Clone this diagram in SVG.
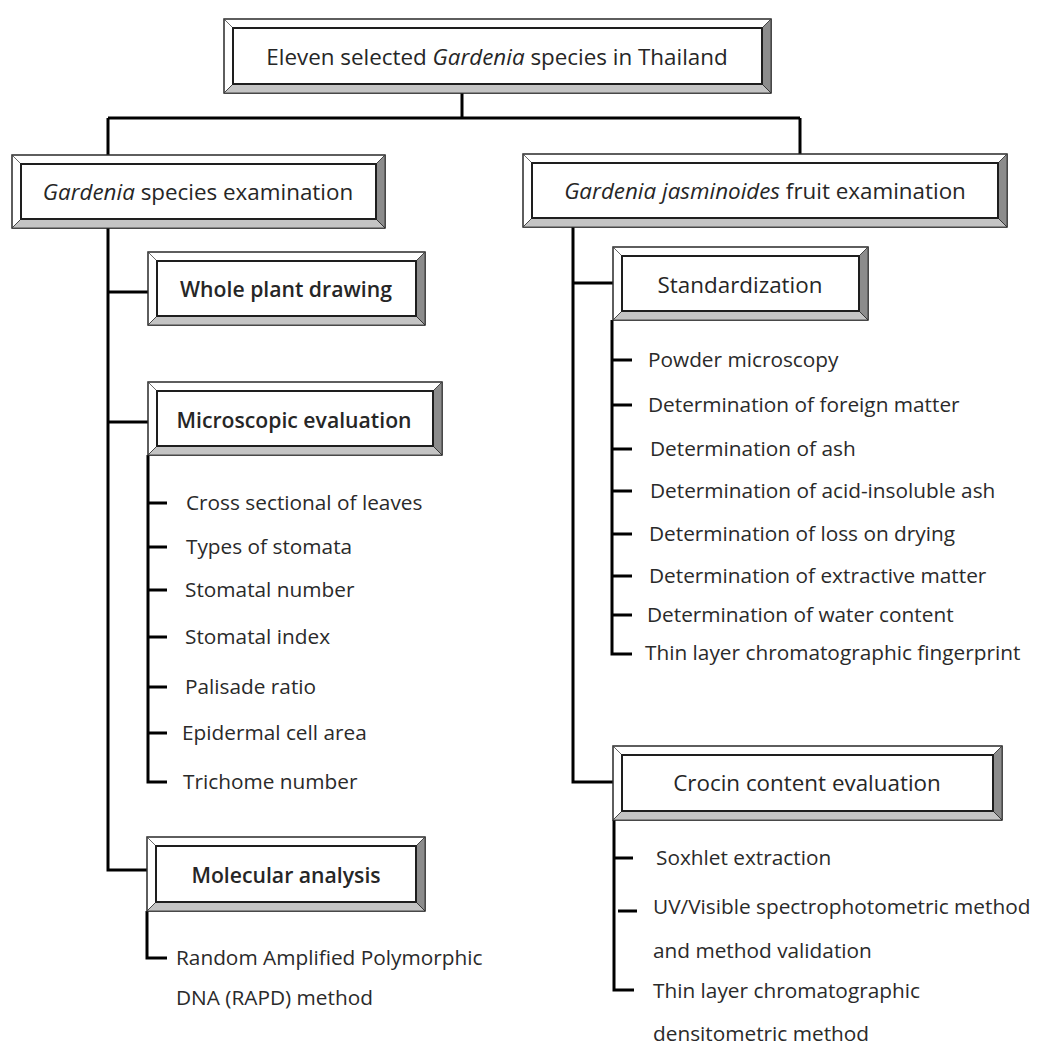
<svg xmlns="http://www.w3.org/2000/svg" width="1039" height="1046" viewBox="0 0 1039 1046">
<style>
  .outer { fill: #ffffff; stroke: #2a2a2a; stroke-width: 1.5; }
  .inner { fill: #ffffff; stroke: #1e1e1e; stroke-width: 2; }
  .bb { fill: #c4c4c4; stroke: #2a2a2a; stroke-width: 0.8; }
  .br { fill: #8c8c8c; stroke: #2a2a2a; stroke-width: 0.8; }
  .diag { stroke: #444; stroke-width: 0.8; fill: none; }
  .title { font-family: "Open Sans", "Noto Sans", sans-serif; font-size: 22.4px; fill: #262626; text-anchor: middle; }
  .semi { font-weight: 600; font-size: 21.2px; }
  .item { font-family: "Open Sans", "Noto Sans", sans-serif; font-size: 20.8px; fill: #2a2a2a; }
  .conn { stroke: #000; stroke-width: 3; fill: none; stroke-linejoin: miter; stroke-linecap: butt; }
  .it { font-style: italic; }
</style>

<g id="connectors">
  <path class="conn" d="M462 93 V118 M108 118 H800 M108 118 V155 M800 118 V155"/>
  <path class="conn" d="M108 228 V870 H147 M108 292 H148 M108 422 H148"/>
  <path class="conn" d="M148 455 V782 H167 M148 503 H167 M148 547 H167 M148 590 H167 M148 637 H167 M148 687 H167 M148 733 H167"/>
  <path class="conn" d="M147 911 V958 H167"/>
  <path class="conn" d="M573 227 V782 H613 M573 283 H613"/>
  <path class="conn" d="M612 320 V654 H632 M612 360 H632 M612 405 H632 M612 449 H632 M612 491 H632 M612 534 H632 M612 576 H632 M612 615 H632"/>
  <path class="conn" d="M614 820 V990 H634 M614 858 H633 M618 911 H637"/>
</g>

<g id="node-top">
  <rect class="outer" x="224" y="19" width="547" height="74"/>
  <polygon class="bb" points="224,93 771,93 762,84 233,84"/>
  <polygon class="br" points="771,19 771,93 762,84 762,28"/>
  <path class="diag" d="M224 19 L233 28 M771 19 L762 28 M224 93 L233 84"/>
  <rect class="inner" x="233" y="28" width="529" height="56"/>
  <text class="title" x="497" y="65">Eleven selected <tspan class="it">Gardenia</tspan> species in Thailand</text>
</g>

<g id="node-left">
  <rect class="outer" x="12" y="155" width="373" height="73"/>
  <polygon class="bb" points="12,228 385,228 376,219 21,219"/>
  <polygon class="br" points="385,155 385,228 376,219 376,164"/>
  <path class="diag" d="M12 155 L21 164 M385 155 L376 164 M12 228 L21 219"/>
  <rect class="inner" x="21" y="164" width="355" height="55"/>
  <text class="title" x="198" y="200"><tspan class="it">Gardenia</tspan> species examination</text>
</g>

<g id="node-right">
  <rect class="outer" x="523" y="154" width="484" height="73"/>
  <polygon class="bb" points="523,227 1007,227 998,218 532,218"/>
  <polygon class="br" points="1007,154 1007,227 998,218 998,163"/>
  <path class="diag" d="M523 154 L532 163 M1007 154 L998 163 M523 227 L532 218"/>
  <rect class="inner" x="532" y="163" width="466" height="55"/>
  <text class="title" x="765" y="199"><tspan class="it">Gardenia jasminoides</tspan> fruit examination</text>
</g>

<g id="node-whole-plant">
  <rect class="outer" x="148" y="252" width="277" height="73"/>
  <polygon class="bb" points="148,325 425,325 416,316 157,316"/>
  <polygon class="br" points="425,252 425,325 416,316 416,261"/>
  <path class="diag" d="M148 252 L157 261 M425 252 L416 261 M148 325 L157 316"/>
  <rect class="inner" x="157" y="261" width="259" height="55"/>
  <text class="title semi" x="286" y="297">Whole plant drawing</text>
</g>

<g id="node-microscopic">
  <rect class="outer" x="148" y="382" width="294" height="73"/>
  <polygon class="bb" points="148,455 442,455 433,446 157,446"/>
  <polygon class="br" points="442,382 442,455 433,446 433,391"/>
  <path class="diag" d="M148 382 L157 391 M442 382 L433 391 M148 455 L157 446"/>
  <rect class="inner" x="157" y="391" width="276" height="55"/>
  <text class="title semi" x="294" y="428">Microscopic evaluation</text>
</g>

<g id="microscopic-items">
  <text class="item" x="186" y="510">Cross sectional  of leaves</text>
  <text class="item" x="186" y="554">Types of stomata</text>
  <text class="item" x="185" y="597">Stomatal number</text>
  <text class="item" x="185" y="644">Stomatal index</text>
  <text class="item" x="185" y="694">Palisade ratio</text>
  <text class="item" x="182" y="740">Epidermal cell area</text>
  <text class="item" x="183" y="789">Trichome number</text>
</g>

<g id="node-molecular">
  <rect class="outer" x="147" y="837" width="278" height="74"/>
  <polygon class="bb" points="147,911 425,911 416,902 156,902"/>
  <polygon class="br" points="425,837 425,911 416,902 416,846"/>
  <path class="diag" d="M147 837 L156 846 M425 837 L416 846 M147 911 L156 902"/>
  <rect class="inner" x="156" y="846" width="260" height="56"/>
  <text class="title semi" x="286" y="883">Molecular analysis</text>
</g>

<g id="molecular-items">
  <text class="item" x="176" y="965">Random Amplified Polymorphic</text>
  <text class="item" x="176" y="1005">DNA (RAPD) method</text>
</g>

<g id="node-standardization">
  <rect class="outer" x="613" y="247" width="255" height="73"/>
  <polygon class="bb" points="613,320 868,320 859,311 622,311"/>
  <polygon class="br" points="868,247 868,320 859,311 859,256"/>
  <path class="diag" d="M613 247 L622 256 M868 247 L859 256 M613 320 L622 311"/>
  <rect class="inner" x="622" y="256" width="237" height="55"/>
  <text class="title" x="740" y="293">Standardization</text>
</g>

<g id="standardization-items">
  <text class="item" x="648" y="367">Powder microscopy</text>
  <text class="item" x="648" y="412">Determination of foreign matter</text>
  <text class="item" x="650" y="456">Determination of ash</text>
  <text class="item" x="650" y="498">Determination of acid-insoluble  ash</text>
  <text class="item" x="649" y="541">Determination of loss on drying</text>
  <text class="item" x="649" y="583">Determination of extractive matter</text>
  <text class="item" x="647" y="622">Determination of water content</text>
  <text class="item" x="645" y="660">Thin layer chromatographic fingerprint</text>
</g>

<g id="node-crocin">
  <rect class="outer" x="613" y="746" width="389" height="74"/>
  <polygon class="bb" points="613,820 1002,820 993,811 622,811"/>
  <polygon class="br" points="1002,746 1002,820 993,811 993,755"/>
  <path class="diag" d="M613 746 L622 755 M1002 746 L993 755 M613 820 L622 811"/>
  <rect class="inner" x="622" y="755" width="371" height="56"/>
  <text class="title" x="807" y="791">Crocin content evaluation</text>
</g>

<g id="crocin-items">
  <text class="item" x="656" y="865">Soxhlet extraction</text>
  <text class="item" x="653" y="914">UV/Visible spectrophotometric method</text>
  <text class="item" x="653" y="958">and method validation</text>
  <text class="item" x="653" y="998">Thin layer chromatographic</text>
  <text class="item" x="653" y="1041">densitometric method</text>
</g>
</svg>
